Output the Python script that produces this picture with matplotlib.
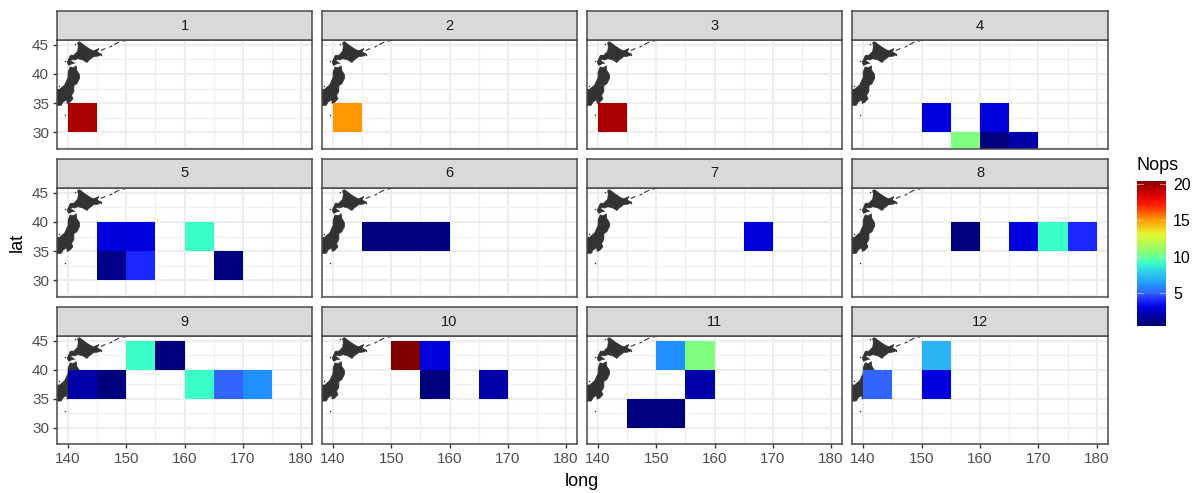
import matplotlib
matplotlib.use("Agg")
import matplotlib.pyplot as plt
import numpy as np
from matplotlib.colors import LinearSegmentedColormap, Normalize
from matplotlib.patches import Rectangle, Polygon

plt.rcParams['font.family'] = ['Liberation Sans', 'DejaVu Sans']

# data: one entry per cell
months = [1, 2, 3,
          4, 4, 4, 4, 4,
          5, 5, 5, 5, 5, 5,
          6, 6, 6,
          7,
          8, 8, 8, 8,
          9, 9, 9, 9, 9, 9, 9,
          10, 10, 10, 10,
          11, 11, 11, 11, 11,
          12, 12, 12]
lons = [140, 140, 140,
        150, 155, 160, 160, 165,
        145, 150, 145, 150, 160, 165,
        145, 150, 155,
        165,
        155, 165, 170, 175,
        150, 155, 140, 145, 160, 165, 170,
        150, 155, 155, 165,
        150, 155, 155, 145, 150,
        150, 150, 140]
lats = [30, 30, 30,
        30, 25, 30, 25, 25,
        35, 35, 30, 30, 35, 30,
        35, 35, 35,
        35,
        35, 35, 35, 35,
        40, 40, 35, 35, 35, 35, 35,
        40, 40, 35, 35,
        40, 40, 35, 30, 30,
        40, 35, 35]
nops = [19.5, 15, 19.5,
        3, 10.4, 3, 1, 2,
        3, 3, 1.3, 4, 9, 1,
        1, 1, 1,
        3,
        1, 3, 9, 4,
        9, 1, 2, 1, 9, 5, 6,
        20.4, 3, 1, 2,
        6, 10.4, 2, 1, 1,
        7, 3, 5]

hokkaido_lon = [141.65, 142.0, 142.9, 143.9, 144.4, 145.3, 145.0, 145.8, 145.2, 144.4, 143.6, 143.25, 142.5, 141.7,
                141.0, 140.95, 140.4, 141.15, 140.7, 140.1, 139.85, 140.4, 141.0, 141.65, 141.75]
hokkaido_lat = [45.4, 45.5, 44.8, 44.15, 43.95, 44.35, 43.75, 43.35, 43.05, 42.95, 42.35, 41.95, 42.4, 42.6,
                42.35, 42.55, 42.3, 41.8, 41.75, 41.45, 42.0, 43.2, 43.2, 43.9, 44.7]
honshu_lon = [140.35, 140.9, 141.4, 141.5, 141.95, 142.0, 141.5, 141.0, 141.0, 140.6, 140.85, 140.3, 139.85, 139.75,
              139.15, 138.85, 138.25, 137.3, 136.8, 137.0, 137.3, 138.5, 139.4, 140.0, 140.0]
honshu_lat = [41.2, 41.05, 41.4, 40.6, 39.9, 39.3, 38.3, 38.0, 37.0, 36.3, 35.75, 35.15, 34.95, 35.6,
              35.2, 34.65, 34.6, 34.6, 34.3, 37.1, 37.5, 37.35, 38.1, 39.4, 40.3]
kuril_lon = [[145.7, 146.3], [147.2, 147.5], [148.0, 148.7], [149.5, 149.9], [150.6, 150.9]]
kuril_lat = [[44.05, 44.3], [44.6, 44.75], [45.05, 45.4], [45.6, 45.75], [45.95, 46.1]]
speck_lon = [141.2, 139.5, 138.4, 139.4, 145.7]
speck_lat = [45.2, 33.0, 38.0, 42.15, 43.2]

x_ticks = [140, 150, 160, 170, 180]
y_ticks = [30, 35, 40, 45]
cbar_ticks = [5, 10, 15, 20]
scale_values = [0.5, 1, 2, 3, 4, 5, 6, 7, 8.2, 9, 10.4, 13, 15, 17, 18.3, 19.5, 20.4]
scale_colours = ['#00007F', '#00007F', '#0000AA', '#0000DD', '#1A28FF', '#3366FF', '#2090FF', '#2AB4F5', '#30DCE8',
                 '#3AFFC8', '#7FFF7F', '#E8F830', '#FF9900', '#FF2000', '#E00000', '#AA0000', '#7F0000']

W, H = 1195, 493
fig = plt.figure(figsize=(W / 100, H / 100), dpi=100, facecolor='white')
norm = Normalize(min(scale_values), max(scale_values))
jet = LinearSegmentedColormap.from_list('nops', [(float(norm(v)), c) for v, c in zip(scale_values, scale_colours)],
                                        N=512)


def px_axes(l, t, r, b, **kw):
    return fig.add_axes([l / W, 1 - b / H, (r - l) / W, (b - t) / H], **kw)


col_l = [57, 322, 587, 852]
col_r = [312, 577, 842, 1108]
row_s = [11, 159, 307]
row_t = [40, 188, 336]
row_b = [148.5, 296.5, 444]
GRAY = '#333333'
EDGE = '#4A4A4A'
TXT = '#4D4D4D'

for m in range(1, 13):
    r, c = (m - 1) // 4, (m - 1) % 4
    ax = px_axes(col_l[c], row_t[r], col_r[c], row_b[r])
    ax.set_xlim(138.1, 181.9)
    ax.set_ylim(27.25, 45.8)
    ax.set_axisbelow(True)
    ax.set_xticks(x_ticks)
    ax.set_yticks(y_ticks)
    ax.set_xticks([145, 155, 165, 175], minor=True)
    ax.set_yticks([27.5, 32.5, 37.5, 42.5], minor=True)
    ax.grid(True, which='major', color='#EDEDED', lw=1.5)
    ax.grid(True, which='minor', color='#F0F0F0', lw=1.0)
    ax.tick_params(which='minor', length=0)
    ax.tick_params(which='major', length=3.2, width=1, color=GRAY, labelcolor=TXT, labelsize=11, pad=2.5,
                   left=c == 0, bottom=r == 2, labelleft=c == 0, labelbottom=r == 2)
    for s in ax.spines.values():
        s.set_color(EDGE)
        s.set_linewidth(1.1)
        s.set_zorder(6)
    ax.add_patch(Polygon(np.c_[hokkaido_lon, hokkaido_lat], fc=GRAY, ec=GRAY, lw=0.5, zorder=2))
    ax.add_patch(Polygon(np.c_[honshu_lon, honshu_lat], fc=GRAY, ec=GRAY, lw=0.5, zorder=2))
    for a, b in zip(kuril_lon, kuril_lat):
        ax.plot(a, b, color=GRAY, lw=0.8, zorder=2)
    ax.scatter(speck_lon, speck_lat, s=1.2, color=GRAY, linewidths=0, zorder=2)
    for mm, lo, la, v in zip(months, lons, lats, nops):
        if mm == m:
            ax.add_patch(Rectangle((lo, la), 5, 5, fc=jet(norm(v)), ec='none', zorder=3))
    st = px_axes(col_l[c], row_s[r], col_r[c], row_t[r], facecolor='#D9D9D9')
    st.set_xticks([])
    st.set_yticks([])
    for s in st.spines.values():
        s.set_color(EDGE)
        s.set_linewidth(1.1)
    st.text(0.5, 0.5, str(m), ha='center', va='center', transform=st.transAxes, fontsize=10.5, color='#1A1A1A')

fig.text(582 / W, 1 - 481 / H, 'long', ha='center', va='center', fontsize=13, color='black')
fig.text(17 / W, 1 - 242 / H, 'lat', ha='center', va='center', rotation=90, fontsize=13, color='black')

cax = px_axes(1137, 181, 1166, 326)
grad = np.linspace(0, 1, 512).reshape(-1, 1)
cax.imshow(grad, cmap=jet, origin='lower', aspect='auto', extent=[0, 1, norm.vmin, norm.vmax])
cax.set_xticks([])
cax.yaxis.tick_right()
cax.set_yticks(cbar_ticks)
cax.tick_params(length=0, labelsize=11.5, labelcolor='black', pad=5)
for s in cax.spines.values():
    s.set_visible(False)
for v in cbar_ticks:
    cax.plot([0, 0.2], [v, v], color='white', lw=0.6, alpha=0.6)
    cax.plot([0.8, 1], [v, v], color='white', lw=0.6, alpha=0.6)
cax.set_xlim(0, 1)
cax.set_ylim(norm.vmin, norm.vmax)
fig.text(1137 / W, 1 - 166 / H, 'Nops', ha='left', va='center', fontsize=13, color='black')

fig.savefig('out.png', dpi=100)
